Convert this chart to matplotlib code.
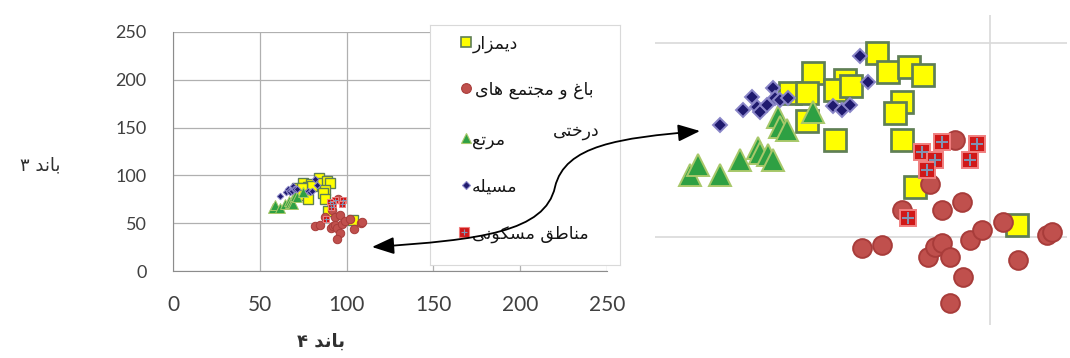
import matplotlib
matplotlib.use("Agg")
import matplotlib.pyplot as plt
from matplotlib.path import Path
from matplotlib.patches import FancyArrowPatch

# ---------------- data (band 4 = x, band 3 = y) ----------------
dimzar_x = [84.0, 85.6, 88.5, 90.5, 74.9, 79.5, 78.0, 80.3, 71.7, 74.1, 74.1, 78.0, 87.5, 86.5, 87.5, 89.4, 103.8]
dimzar_y = [97.4, 92.5, 93.8, 91.8, 92.3, 90.5, 87.9, 88.9, 87.1, 87.1, 79.9, 75.0, 84.8, 82.0, 75.0, 62.9, 53.1]

bagh_x = [95.0, 91.5, 87.5, 93.2, 96.0, 81.9, 84.7, 91.2, 92.2, 93.2, 94.3, 97.2, 98.9, 101.8, 104.0, 96.2, 94.3, 108.1, 108.8]
bagh_y = [75.0, 63.7, 57.0, 57.0, 59.0, 47.2, 47.9, 44.8, 47.4, 48.5, 44.8, 49.2, 51.8, 53.9, 44.1, 39.7, 33.0, 50.5, 51.3]

marta_x = [57.5, 58.6, 61.8, 64.6, 67.1, 67.4, 68.6, 69.3, 70.0, 70.3, 71.2, 74.9]
marta_y = [66.0, 68.6, 66.0, 69.8, 72.9, 71.6, 71.1, 69.8, 80.9, 78.4, 77.6, 82.2]

maseele_x = [61.8, 65.0, 66.3, 67.0, 67.4, 68.4, 69.3, 69.5, 70.3, 71.4, 77.8, 79.0, 80.2, 81.6, 82.7]
maseele_y = [78.9, 82.7, 86.1, 83.5, 82.2, 84.0, 88.4, 85.8, 85.3, 85.8, 83.8, 82.7, 84.0, 96.6, 89.9]

maskooni_x = [93.2, 98.2, 97.2, 90.4, 92.2, 91.1, 88.4]
maskooni_y = [74.5, 74.0, 69.8, 71.9, 69.8, 67.3, 54.9]

ticks = [0, 50, 100, 150, 200, 250]
labels = ["دیمزار", "باغ و مجتمع های", "مرتع", "مسیله", "مناطق مسکونی"]
label2_extra = "درختی"
xlabel = "باند ۴"
ylabel = "باند ۳"

# ---------------- simple Persian shaping ----------------
FORMS = {
    '\u0627': ('\uFE8D', '\uFE8E', None, None),
    '\u0628': ('\uFE8F', '\uFE90', '\uFE91', '\uFE92'),
    '\u062A': ('\uFE95', '\uFE96', '\uFE97', '\uFE98'),
    '\u062C': ('\uFE9D', '\uFE9E', '\uFE9F', '\uFEA0'),
    '\u062E': ('\uFEA5', '\uFEA6', '\uFEA7', '\uFEA8'),
    '\u062F': ('\uFEA9', '\uFEAA', None, None),
    '\u0631': ('\uFEAD', '\uFEAE', None, None),
    '\u0632': ('\uFEAF', '\uFEB0', None, None),
    '\u0633': ('\uFEB1', '\uFEB2', '\uFEB3', '\uFEB4'),
    '\u0637': ('\uFEC1', '\uFEC2', '\uFEC3', '\uFEC4'),
    '\u0639': ('\uFEC9', '\uFECA', '\uFECB', '\uFECC'),
    '\u063A': ('\uFECD', '\uFECE', '\uFECF', '\uFED0'),
    '\u0642': ('\uFED5', '\uFED6', '\uFED7', '\uFED8'),
    '\u0644': ('\uFEDD', '\uFEDE', '\uFEDF', '\uFEE0'),
    '\u0645': ('\uFEE1', '\uFEE2', '\uFEE3', '\uFEE4'),
    '\u0646': ('\uFEE5', '\uFEE6', '\uFEE7', '\uFEE8'),
    '\u0647': ('\uFEE9', '\uFEEA', '\uFEEB', '\uFEEC'),
    '\u0648': ('\uFEED', '\uFEEE', None, None),
    '\u06A9': ('\uFB8E', '\uFB8F', '\uFB90', '\uFB91'),
    '\u06CC': ('\uFBFC', '\uFBFD', '\uFBFE', '\uFBFF'),
}


def fa(s):
    out = []
    for i, c in enumerate(s):
        if c not in FORMS:
            out.append(c)
            continue
        prev = s[i - 1] if i > 0 else None
        nxt = s[i + 1] if i + 1 < len(s) else None
        jp = prev in FORMS and FORMS[prev][2] is not None
        jn = nxt in FORMS and FORMS[c][2] is not None
        iso, fin, ini, med = FORMS[c]
        out.append(med if (jp and jn) else fin if jp else ini if jn else iso)
    return ''.join(reversed(out))


# ---------------- figure ----------------
W, H = 1070, 358
fig = plt.figure(figsize=(W / 100, H / 100), dpi=100)


def fx(p):
    return p / W


def fy(p):
    return 1 - p / H


FA_FONT = ['DejaVu Sans']
TICK_FONT = ['Lato', 'DejaVu Sans']

# styles
sq = dict(marker='s', ls='none', mfc='#ffff00', mec='#5f7f55')
ci = dict(marker='o', ls='none', mfc='#c0504d', mec='#a83c3a')
tr = dict(marker='^', ls='none', mfc='#2ea043', mec='#a8c86a')
di = dict(marker='D', ls='none', mfc='#1f1a6e', mec='#8a86c8')
ms_sq = dict(marker='s', ls='none', mfc='#d01818', mec='#f08080')
pl = dict(marker='+', ls='none', color='#7f95b5')


def draw_series(a, scale, mew):
    a.plot(dimzar_x, dimzar_y, ms=16 * scale, mew=mew * 1.4, **sq)
    a.plot(bagh_x, bagh_y, ms=13.5 * scale, mew=mew, **ci)
    a.plot(marta_x, marta_y, ms=16 * scale, mew=mew, **tr)
    a.plot(maseele_x, maseele_y, ms=7.5 * scale, mew=mew, **di)
    a.plot(maskooni_x, maskooni_y, ms=11 * scale, mew=mew, **ms_sq)
    a.plot(maskooni_x, maskooni_y, ms=8 * scale, mew=mew, **pl)


# ---- left chart ----
ax = fig.add_axes([fx(173), fy(271), 434 / W, 239 / H])
ax.set_xlim(0, 250)
ax.set_ylim(0, 250)
ax.set_xticks(ticks)
ax.set_yticks(ticks)
ax.grid(True, color='#b0b0b0', lw=0.9)
ax.set_axisbelow(True)
for s in ('top', 'right'):
    ax.spines[s].set_visible(False)
for s in ('left', 'bottom'):
    ax.spines[s].set_color('#8c8c8c')
ax.tick_params(axis='x', length=0, pad=17, labelsize=15, labelcolor='#404040')
ax.tick_params(axis='y', length=0, pad=19, labelsize=13, labelcolor='#404040')
for t in ax.get_xticklabels() + ax.get_yticklabels():
    t.set_family(TICK_FONT)
draw_series(ax, 0.45, 0.7)

fig.text(fx(40), fy(165), fa(ylabel), family=FA_FONT, fontsize=13, ha='center', va='center', color='#303030')
fig.text(fx(321), fy(342), fa(xlabel), family=FA_FONT, fontsize=13, fontweight='bold', ha='center', va='center', color='#303030')

# ---- legend box ----
lax = fig.add_axes([fx(430), fy(265), 190 / W, 240 / H], zorder=3)
lax.set_xlim(430, 620)
lax.set_ylim(265, 25)
lax.set_xticks([])
lax.set_yticks([])
for s in lax.spines.values():
    s.set_color('#d9d9d9')
leg_y = [42, 88, 138, 185, 232]
lax.plot([466], [leg_y[0]], ms=6.5, mew=1.2, **sq)
lax.plot([466], [leg_y[1]], ms=7, mew=0.8, **ci)
lax.plot([466], [leg_y[2]], ms=7, mew=0.8, **tr)
lax.plot([466], [leg_y[3]], ms=4.5, mew=0.8, **di)
lax.plot([464], [leg_y[4]], ms=7.5, mew=0.8, **ms_sq)
lax.plot([464], [leg_y[4]], ms=5, mew=0.8, **pl)
txt_x = [473, 475, 472, 472, 472]
for x, y, lab in zip(txt_x, leg_y, labels):
    lax.text(x, y + 2, fa(lab), family=FA_FONT, fontsize=12.5, ha='left', va='center', color='#151515')
lax.text(600, 131, fa(label2_extra), family=FA_FONT, fontsize=12.5, ha='right', va='center', color='#151515')

# ---- magnified view ----
rax = fig.add_axes([fx(655), fy(325), 412 / W, 310 / H])
rax.set_xlim(52.55, 110.9)
rax.set_ylim(27.3, 107.2)
rax.axis('off')
rax.axhline(50, color='#d9d9d9', lw=1.2, zorder=0)
rax.axhline(100, color='#d9d9d9', lw=1.2, zorder=0)
rax.axvline(100, color='#d9d9d9', lw=1.2, zorder=0)
draw_series(rax, 1.0, 1.4)

# ---- curved double-headed arrow ----
pts = [(372, 247), (480, 240), (545, 232), (555, 187), (565, 145), (620, 138), (700, 131)]
verts = [(fx(x), fy(y)) for x, y in pts]
codes = [Path.MOVETO, Path.CURVE4, Path.CURVE4, Path.CURVE4, Path.CURVE4, Path.CURVE4, Path.CURVE4]
arrow = FancyArrowPatch(path=Path(verts, codes), arrowstyle='<|-|>,head_length=0.9,head_width=0.35',
                        mutation_scale=15, color='black', lw=1.3, transform=fig.transFigure, zorder=6)
fig.add_artist(arrow)

fig.savefig('out.png', dpi=100, facecolor='white')
